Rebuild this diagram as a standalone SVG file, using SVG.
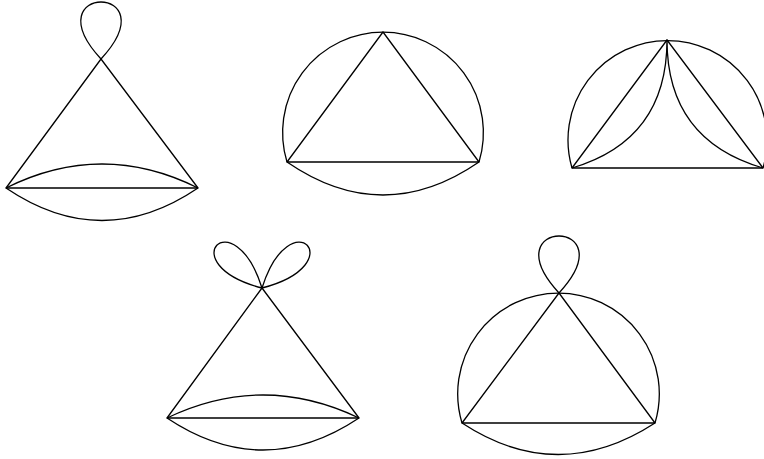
<svg xmlns="http://www.w3.org/2000/svg" width="764" height="459" viewBox="0 0 764 459">
<style>
.e{fill:none;stroke:#000;stroke-width:1.3;stroke-linejoin:round}
</style>
<rect width="764" height="459" fill="#fff"/>
<g id="connectors">
<g id="d1">
<path class="e" d="M6 188 L101 59 L198 188 Z"/>
<path class="e" d="M6 188 Q102 140 198 188"/>
<path class="e" d="M6 188 Q102 253 198 188"/>
<path class="e" d="M101 59 C171 -17 31 -17 101 59"/>
</g>
<g id="d2">
<path class="e" d="M287 162 L383 32 L479 162 Z"/>
<path class="e" d="M287 162 A100.4 100.4 0 1 1 479 162"/>
<path class="e" d="M287 162 Q383 228 479 162"/>
</g>
<g id="d3">
<path class="e" d="M572 168 L667 40 L763 168 Z"/>
<path class="e" d="M572 168 A99.5 99.5 0 1 1 763 168"/>
<path class="e" d="M572 168 Q667 140 667 40 Q667 140 763 168"/>
</g>
<g id="d4">
<path class="e" d="M167 418 L262 288 L359 418 Z"/>
<path class="e" d="M167 418 Q263 372 359 418"/>
<path class="e" d="M167 418 Q263 482 359 418"/>
<path class="e" d="M262 288 C233.5 198 170 264 262 288"/>
<path class="e" d="M262 288 C290.5 198 354 264 262 288"/>
</g>
<g id="d5">
<path class="e" d="M462 423 L559 293 L655 423 Z"/>
<path class="e" d="M462 423 A100.8 100.8 0 1 1 655 423"/>
<path class="e" d="M462 423 Q558 486 655 423"/>
<path class="e" d="M559 293 C629 217 489 217 559 293"/>
</g>
</g>
</svg>
